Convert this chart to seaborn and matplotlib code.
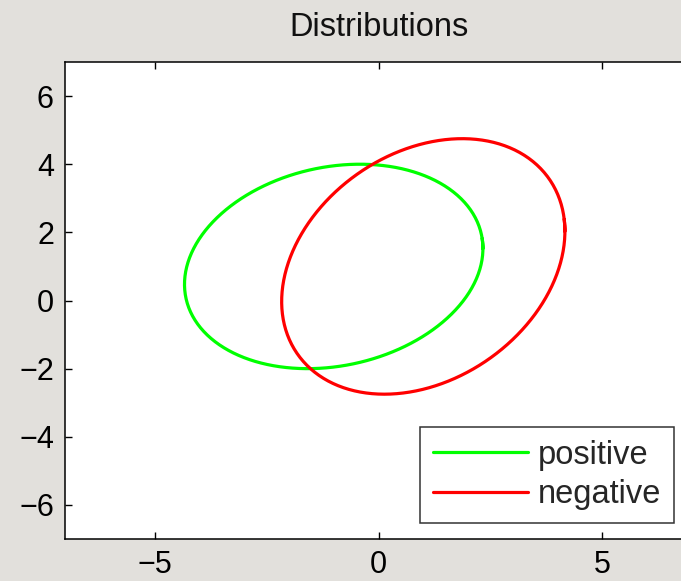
import numpy as np
import pandas as pd
import matplotlib
matplotlib.use("Agg")
import matplotlib.pyplot as plt
import seaborn as sns

# Gaussian class parameters (mean and contour covariance)
labels = ["positive", "negative"]
colors = ["#00ff00", "#ff0000"]
means = [[-1.0, 1.0], [1.0, 1.0]]
covs = [[[11.1, 1.75], [1.75, 9.0]],
        [[10.0, 3.26], [3.26, 14.06]]]

x_ticks = [-5, 0, 5]
y_ticks = [-6, -4, -2, 0, 2, 4, 6]

sns.set_style("white")
plt.rcParams["font.family"] = ["Liberation Sans", "DejaVu Sans"]

bg = "#e2e0dc"
fig = plt.figure(figsize=(6.81, 5.81), dpi=100, facecolor=bg)
ax = fig.add_axes([65 / 681, 42 / 581, 627 / 681, 477 / 581])
ax.set_facecolor("white")

# Contour of each distribution: unit circle mapped through the covariance
# (run slightly past a full turn so the outline closes cleanly)
t = np.linspace(0, 2 * np.pi + 0.1, 420)
circle = np.vstack([np.cos(t), np.sin(t)])
frames = []
for lab, m, c in zip(labels, means, covs):
    L = np.linalg.cholesky(np.array(c))
    pts = L @ circle + np.array(m)[:, None]
    frames.append(pd.DataFrame({"x": pts[0], "y": pts[1], "class": lab}))
df = pd.concat(frames, ignore_index=True)

for lab, col in zip(labels, colors):
    sub = df[df["class"] == lab]
    sns.lineplot(data=sub, x="x", y="y", sort=False, estimator=None,
                 color=col, linewidth=2.3, label=lab, ax=ax,
                 solid_capstyle="round", solid_joinstyle="round")

ax.set_xlim(-7, 7)
ax.set_ylim(-7, 7)
ax.set_xticks(x_ticks)
ax.set_yticks(y_ticks)
ax.set_xlabel("")
ax.set_ylabel("")
ax.tick_params(direction="in", length=5, width=1, colors="black",
               labelsize=22, top=True, right=True, bottom=True, left=True,
               pad=8)
for s in ax.spines.values():
    s.set_color("black")
    s.set_linewidth(1.1)

ax.set_title("Distributions", fontsize=23.5, pad=19, color="#111111")

leg = ax.legend(loc="lower right", bbox_to_anchor=(674 / 681, 58 / 581),
                bbox_transform=fig.transFigure, borderaxespad=0,
                fontsize=23.5, frameon=True, fancybox=False, handlelength=2.9,
                handletextpad=0.3, labelspacing=0.25, borderpad=0.4)
leg.get_frame().set_edgecolor("black")
leg.get_frame().set_linewidth(1.1)

fig.savefig("out.png", dpi=100, facecolor=bg)
